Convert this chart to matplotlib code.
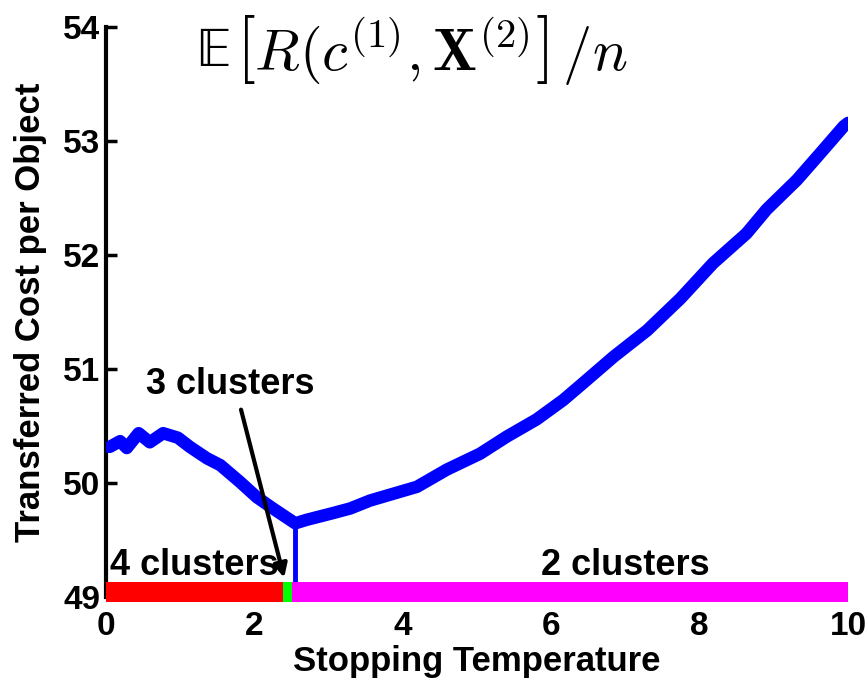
import matplotlib
matplotlib.use("Agg")
import matplotlib.pyplot as plt

# curve: stopping temperature vs transferred cost
temps = [0.05, 0.19, 0.28, 0.44, 0.59, 0.77, 0.97, 1.13, 1.36, 1.54, 1.81,
         2.03, 2.25, 2.55, 2.70, 3.06, 3.29, 3.56, 4.19, 4.59, 5.04, 5.40,
         5.80, 6.16, 6.43, 6.84, 7.29, 7.74, 8.18, 8.63, 8.90, 9.31, 9.62,
         9.94, 10.0]
cost = [50.32, 50.37, 50.31, 50.44, 50.36, 50.44, 50.40, 50.32, 50.22, 50.16,
        50.01, 49.88, 49.78, 49.65, 49.68, 49.74, 49.78, 49.85, 49.97, 50.12,
        50.26, 50.41, 50.56, 50.73, 50.88, 51.11, 51.34, 51.62, 51.93, 52.19,
        52.40, 52.66, 52.89, 53.13, 53.16]

# cluster regimes along the temperature axis
regime_starts = [0.0, 2.39, 2.50]
regime_ends = [2.39, 2.50, 10.0]
regime_colors = ["#ff0000", "#00ff00", "#ff00ff"]
regime_labels = ["4 clusters", "3 clusters", "2 clusters"]
drop_temp = 2.55

xticks = [0, 2, 4, 6, 8, 10]
yticks = [49, 50, 51, 52, 53, 54]

plt.rcParams["font.family"] = "Liberation Sans"

fig = plt.figure(figsize=(8.66, 6.84), dpi=100)
ax = fig.add_axes([0.1224, 0.1265, 0.857, 0.8340])

ax.plot(temps, cost, color="#0000ff", lw=9, solid_capstyle="round",
        solid_joinstyle="round", zorder=3)
ax.plot([drop_temp, drop_temp], [min(cost), 49.14], color="#0000ff", lw=3.5, zorder=3)

for s, e, c in zip(regime_starts, regime_ends, regime_colors):
    ax.fill_between([s, e], 48.96, 49.14, color=c, lw=0, zorder=4, clip_on=False)

ax.set_xlim(0, 10)
ax.set_ylim(49, 54)
ax.set_xticks(xticks)
ax.set_yticks(yticks)
for sp in ["top", "right", "bottom"]:
    ax.spines[sp].set_visible(False)
ax.spines["left"].set_linewidth(3)
ax.tick_params(axis="y", direction="in", length=8, width=2.5, labelsize=24, pad=4)
ax.tick_params(axis="x", length=0, labelsize=24, pad=10)
for lab in ax.get_xticklabels() + ax.get_yticklabels():
    lab.set_fontweight("bold")

ax.set_xlabel("Stopping Temperature", fontsize=25, fontweight="bold", labelpad=2)
ax.set_ylabel("Transferred Cost per Object", fontsize=25, fontweight="bold", labelpad=12)

ax.text(0.05, 49.13, regime_labels[0], fontsize=26, fontweight="bold", va="bottom", ha="left")
ax.text(7.0, 49.13, regime_labels[2], fontsize=26, fontweight="bold", va="bottom", ha="center")
ax.text(1.67, 50.87, regime_labels[1], fontsize=26, fontweight="bold", va="center", ha="center")
ax.annotate("", xy=(2.41, 49.15), xytext=(1.81, 50.67),
            arrowprops=dict(arrowstyle="-|>", color="black", lw=3, mutation_scale=20))

# title: double-struck E from STIX, the rest in computer modern math
ax.text(1.22, 53.78, "\U0001D53C", fontsize=40, ha="left", va="center",
        family="STIXGeneral")
ax.text(1.75, 53.8, r"$\left[R(c^{(1)},\mathbf{X}^{(2)}\right]\,/n$",
        fontsize=42, ha="left", va="center", math_fontfamily="cm")

fig.savefig("out.png", dpi=100)
